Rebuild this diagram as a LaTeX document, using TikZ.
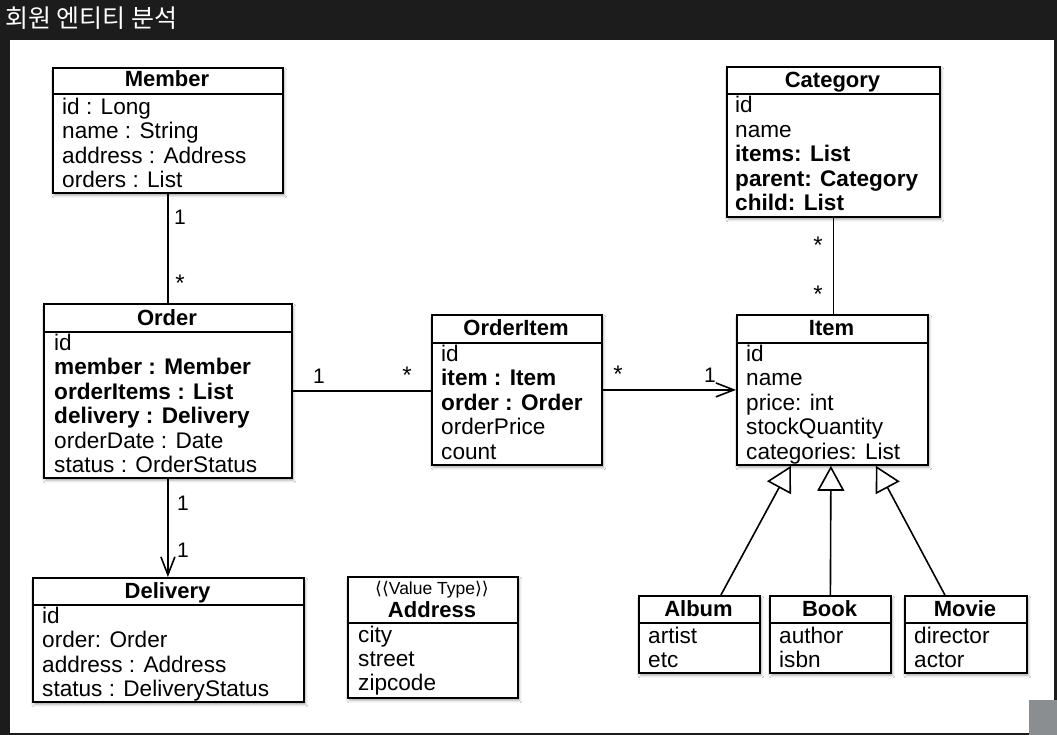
\documentclass[tikz,border=0pt]{standalone}
\usepackage{fontspec}
\setmainfont{Liberation Sans}
\newfontfamily\krfont{Noto Sans CJK KR}
\newfontfamily\symfont{DejaVu Sans}
\usetikzlibrary{arrows.meta,shadows.blur,calc}
\newcommand\umlbox[6]{%
  \node[cls, minimum width=#4pt, minimum height=#5pt] (#1) at (#2,#3) {};
  \draw[line width=1.8pt] ($(#1.north west)+(0,#6)$) -- ($(#1.north east)+(0,#6)$);
}
\begin{document}
\begin{tikzpicture}[x=1pt,y=-1pt,
  cls/.style={draw=black, line width=1.8pt, fill=white, inner sep=0pt, anchor=north west,
    blur shadow={shadow xshift=1.5pt, shadow yshift=-2.5pt, shadow blur radius=2.5pt, shadow opacity=35}},
  ttl/.style={font=\fontsize{22}{24.5}\selectfont\bfseries, anchor=base, inner sep=0pt},
  attr/.style={font=\fontsize{22.6}{24.5}\selectfont, anchor=base west, inner sep=0pt},
  mult/.style={font=\fontsize{21}{24}\selectfont, inner sep=0pt, anchor=base},
  star/.style={font=\fontsize{24}{26}\selectfont, inner sep=0pt, anchor=center},
  conn/.style={line width=1.6pt, draw=black},
  nav/.style={conn, -{Straight Barb[length=18pt, width=14pt, line width=1.6pt]}},
  gen/.style={conn, -{Triangle[open, length=25pt, width=27pt, line width=1.6pt, fill=white]}},
]
% background
\fill[fill={rgb,255:red,28;green,28;blue,28}] (0,0) rectangle (1057,735);
\fill[white] (10,40) rectangle (1054,733);
\fill[fill={rgb,255:red,138;green,142;blue,144}] (1029,700) rectangle (1057,735);
\node[font=\krfont\fontsize{25}{28}\selectfont, text=white, anchor=base west, inner sep=0pt] (title) at (5,28) {회원 엔티티 분석};

% Member
\umlbox{member}{52}{67}{230}{125}{27}
\node[ttl] (member-t) at (167,87) {Member};
\foreach \t [count=\i] in {id : Long, name : String, address : Address, orders : List}
  \node[attr] (member-a\i) at (62,{114.5+24.5*(\i-1)}) {\t};

% Order
\umlbox{order}{43}{303}{248}{174}{29}
\node[ttl] (order-t) at (167,325) {Order};
\foreach \t [count=\i] in {id, {\bfseries member : Member}, {\bfseries orderItems : List}, {\bfseries delivery : Delivery}, orderDate : Date, status : OrderStatus}
  \node[attr] (order-a\i) at (54,{350+24.5*(\i-1)}) {\t};

% OrderItem
\umlbox{orderitem}{431}{314}{170}{150}{29}
\node[ttl] (orderitem-t) at (516,335) {OrderItem};
\foreach \t [count=\i] in {id, {\bfseries item : Item}, {\bfseries order : Order}, orderPrice, count}
  \node[attr] (orderitem-a\i) at (441,{361+24.5*(\i-1)}) {\t};

% Item
\umlbox{item}{736}{314}{191}{150}{29}
\node[ttl] (item-t) at (831.5,335) {Item};
\foreach \t [count=\i] in {id, name, price: int, stockQuantity, categories: List}
  \node[attr] (item-a\i) at (746,{361+24.5*(\i-1)}) {\t};

% Category
\umlbox{category}{726}{66}{213}{150}{28}
\node[ttl] (category-t) at (832.5,88) {Category};
\foreach \t [count=\i] in {id, name, {\bfseries items: List}, {\bfseries parent: Category}, {\bfseries child: List}}
  \node[attr] (category-a\i) at (735,{113+24.5*(\i-1)}) {\t};

% Delivery
\umlbox{delivery}{32}{577}{271}{124}{28}
\node[ttl] (delivery-t) at (167.5,598) {Delivery};
\foreach \t [count=\i] in {id, order: Order, address : Address, status : DeliveryStatus}
  \node[attr] (delivery-a\i) at (42,{623+24.5*(\i-1)}) {\t};

% Address
\umlbox{address}{347}{576}{170}{121}{47}
\node[font=\fontsize{17.5}{19}\selectfont, anchor=base, inner sep=0pt] (address-s) at (432,594) {{\symfont ⟨⟨}Value Type{\symfont ⟩⟩}};
\node[ttl] (address-t) at (432,617) {Address};
\foreach \t [count=\i] in {city, street, zipcode}
  \node[attr] (address-a\i) at (358,{642+24*(\i-1)}) {\t};

% Album, Book, Movie
\umlbox{album}{638}{595}{121}{77}{28}
\node[ttl] (album-t) at (698.5,616) {Album};
\foreach \t [count=\i] in {artist, etc}
  \node[attr] (album-a\i) at (648,{643+24.5*(\i-1)}) {\t};
\umlbox{book}{769}{595}{121}{77}{28}
\node[ttl] (book-t) at (829.5,616) {Book};
\foreach \t [count=\i] in {author, isbn}
  \node[attr] (book-a\i) at (779,{643+24.5*(\i-1)}) {\t};
\umlbox{movie}{904}{595}{122}{77}{28}
\node[ttl] (movie-t) at (965,616) {Movie};
\foreach \t [count=\i] in {director, actor}
  \node[attr] (movie-a\i) at (914,{643+24.5*(\i-1)}) {\t};

% connectors
\draw[conn] (member.south) -- (order.north);
\node[mult] (m1) at (180,225) {1};
\node[star] (m2) at (180,283) {*};

\draw[conn] (order.east) -- (order.east -| orderitem.west);
\node[mult] (o1) at (319,383) {1};
\node[star] (o2) at (407,375) {*};

\draw[nav] (orderitem.east) -- (item.west);
\node[star] (i1) at (618,374) {*};
\node[mult] (i2) at (710,382) {1};

\draw[conn] (category.south) -- (category.south |- item.north);
\node[star] (c1) at (818,245) {*};
\node[star] (c2) at (818,294) {*};

\draw[nav] (order.south) -- (order.south |- delivery.north);
\node[mult] (d1) at (183,510) {1};
\node[mult] (d2) at (183,557) {1};

\coordinate (tipA) at ($(item.south)+(-41.5,0)$);
\coordinate (tipB) at ($(item.south)+(-1.5,0)$);
\coordinate (tipM) at ($(item.south)+(43.5,0)$);
\coordinate (baseA) at ($(album.north)+(21.5,0)$);
\coordinate (baseM) at ($(movie.north)+(-21,0)$);
\draw[gen] (baseA) -- (tipA);
\draw[gen] (book.north) -- (tipB);
\draw[gen] (baseM) -- (tipM);
\end{tikzpicture}
\end{document}
